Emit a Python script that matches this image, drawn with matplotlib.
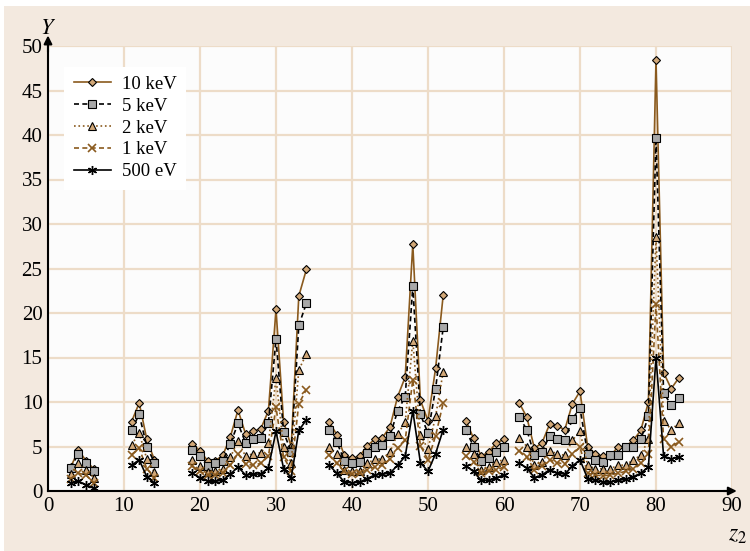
import numpy as np
import matplotlib
matplotlib.use("Agg")
import matplotlib.pyplot as plt
from matplotlib.patches import Rectangle

plt.rcParams['font.family'] = ['Liberation Serif', 'DejaVu Serif']
plt.rcParams['mathtext.fontset'] = 'stix'

# atomic numbers of the targets
z2 = [3, 4, 5, 6,
      11, 12, 13, 14,
      19, 20, 21, 22, 23, 24, 25, 26, 27, 28, 29, 30, 31, 32, 33, 34,
      37, 38, 39, 40, 41, 42, 43, 44, 45, 46, 47, 48, 49, 50, 51, 52,
      55, 56, 57, 58, 59, 60,
      62, 63, 64, 65, 66, 67, 68, 69, 70, 71, 72, 73, 74, 75, 76, 77, 78, 79, 80, 81, 82, 83]

y_10kev = [2.7, 4.6, 3.4, 2.5,
           7.8, 9.9, 5.8, 3.5,
           5.3, 4.5, 3.4, 3.4, 4.0, 6.1, 9.1, 6.4, 6.7, 7.0, 9.0, 20.4, 7.8, 5.0, 21.9, 24.9,
           7.8, 6.3, 4.0, 3.7, 3.9, 5.1, 5.8, 6.0, 7.2, 10.6, 12.8, 27.7, 10.2, 7.9, 13.8, 22.0,
           7.9, 5.9, 3.9, 4.4, 5.4, 5.8,
           9.9, 8.3, 4.8, 5.4, 7.5, 7.3, 6.9, 9.8, 11.2, 5.0, 4.2, 3.9, 3.9, 5.0, 5.0, 5.7, 6.8, 10.0, 48.4, 13.3, 11.5, 12.7]

y_5kev = [2.6, 4.2, 3.2, 2.3,
          6.9, 8.6, 5.0, 3.2,
          4.6, 3.9, 2.8, 3.1, 3.4, 5.3, 7.6, 5.4, 5.8, 6.0, 7.6, 17.1, 6.6, 4.4, 18.6, 21.1,
          6.8, 5.5, 3.4, 3.1, 3.3, 4.3, 4.9, 5.2, 6.2, 9.0, 10.6, 23.0, 8.6, 6.5, 11.5, 18.4,
          6.8, 5.0, 3.4, 3.7, 4.4, 5.0,
          8.3, 6.9, 4.0, 4.4, 6.2, 5.8, 5.7, 8.1, 9.3, 4.2, 3.5, 3.3, 4.0, 4.0, 4.9, 5.0, 5.8, 8.4, 39.7, 11.0, 9.7, 10.4]

y_2kev = [1.9, 3.1, 2.4, 1.5,
          5.2, 6.5, 3.6, 2.1,
          3.5, 2.8, 2.1, 2.3, 2.5, 3.8, 5.6, 3.9, 4.2, 4.3, 5.4, 12.7, 4.9, 3.2, 13.6, 15.4,
          4.9, 4.2, 2.4, 2.2, 2.2, 3.1, 3.6, 3.6, 4.4, 6.4, 7.7, 16.9, 6.3, 4.7, 8.4, 13.4,
          4.9, 4.2, 2.4, 2.7, 3.3, 3.5,
          6.0, 5.0, 2.9, 3.3, 4.5, 4.2, 4.0, 5.7, 6.7, 2.9, 2.5, 2.5, 2.5, 2.9, 2.9, 3.5, 4.0, 5.8, 28.5, 7.9, 6.9, 7.6]

y_1kev = [1.4, 2.0, 1.8, 0.9,
          4.1, 4.8, 2.5, 1.5,
          2.8, 2.2, 1.8, 1.8, 2.0, 2.9, 4.2, 3.0, 2.9, 3.1, 3.9, 9.4, 3.8, 2.3, 9.8, 11.4,
          4.0, 3.1, 2.2, 1.9, 2.0, 2.4, 2.7, 2.9, 3.6, 4.8, 5.7, 12.5, 5.1, 3.5, 6.2, 9.9,
          3.9, 3.3, 2.0, 2.2, 2.4, 2.7,
          4.5, 3.8, 2.4, 2.8, 3.5, 3.2, 3.0, 4.2, 4.9, 2.0, 1.8, 1.7, 1.8, 2.0, 2.2, 2.5, 3.1, 4.2, 21.0, 5.8, 5.0, 5.5]

y_500ev = [0.9, 1.1, 0.7, 0.3,
           2.9, 3.5, 1.6, 0.9,
           2.0, 1.5, 1.1, 1.1, 1.2, 1.9, 2.7, 1.8, 1.9, 1.9, 2.6, 6.7, 2.5, 1.5, 6.8, 8.0,
           2.9, 2.0, 1.0, 0.9, 1.0, 1.4, 1.8, 1.9, 2.0, 2.9, 3.9, 9.0, 3.2, 2.2, 4.2, 6.9,
           2.8, 2.2, 1.2, 1.2, 1.5, 1.8,
           3.1, 2.6, 1.5, 1.8, 2.4, 2.0, 1.9, 2.8, 3.5, 1.4, 1.2, 1.0, 1.0, 1.2, 1.3, 1.6, 2.0, 2.7, 15.0, 3.9, 3.6, 3.8]

labels = ['10 keV', '5 keV', '2 keV', '1 keV', '500 eV']


def broken(z, y):
    # put a NaN wherever the Z sequence jumps so the line is interrupted
    z = np.array(z, dtype=float)
    y = np.array(y, dtype=float)
    zz, yy = [z[0]], [y[0]]
    for i in range(1, len(z)):
        if z[i] - z[i - 1] > 1:
            zz.append(np.nan)
            yy.append(np.nan)
        zz.append(z[i])
        yy.append(y[i])
    return np.array(zz), np.array(yy)


brown = '#8a5a1e'
tan = '#d2a878'

fig = plt.figure(figsize=(7.5, 5.51), dpi=100)
fig.patch.set_facecolor('white')
fig.patches.append(Rectangle((4 / 750, 0), 1, 545 / 551, transform=fig.transFigure,
                             facecolor='#f3e9df', edgecolor='none', zorder=-10))

ax = fig.add_axes([48 / 750, 60 / 551, 684 / 750, 445 / 551])
ax.set_facecolor('#fcfcfc')

styles = [
    dict(color=brown, ls='-', marker='D', ms=4.5, mfc=tan, mec='black', mew=0.8, lw=1.2),
    dict(color='black', ls=(0, (3, 2)), marker='s', ms=5.5, mfc='#a8a8a8', mec='black', mew=0.8, lw=1.2),
    dict(color=brown, ls=':', marker='^', ms=5.5, mfc=tan, mec='black', mew=0.8, lw=1.2),
    dict(color=brown, ls=(0, (3, 2)), marker='x', ms=5.5, mec=brown, mew=1.2, lw=1.2),
    dict(color='black', ls='-', marker=(6, 2, 0), ms=6.5, mec='black', mew=1.0, lw=1.2),
]
series = [y_10kev, y_5kev, y_2kev, y_1kev, y_500ev]

for ys, st, lab in zip(series, styles, labels):
    xx, yy = broken(z2, ys)
    ax.plot(xx, yy, label=lab, zorder=3, **st)

ax.set_xlim(0, 90)
ax.set_ylim(0, 50)
ax.set_xticks(np.arange(0, 91, 10))
ax.set_yticks(np.arange(0, 51, 5))
ax.grid(True, color='#eddcc8', lw=1.6, zorder=0)
ax.set_axisbelow(True)
ax.tick_params(length=0, labelsize=15, pad=4)
for s in ['top', 'right']:
    ax.spines[s].set_visible(False)
ax.spines['left'].set_linewidth(1.5)
ax.spines['bottom'].set_linewidth(1.5)

# axis arrows
ax.annotate('', xy=(0, 51.5), xytext=(0, 49), xycoords='data',
            arrowprops=dict(arrowstyle='-|>', color='black', lw=1.5, mutation_scale=12),
            annotation_clip=False)
ax.annotate('', xy=(91, 0), xytext=(88.5, 0), xycoords='data',
            arrowprops=dict(arrowstyle='-|>', color='black', lw=1.5, mutation_scale=12),
            annotation_clip=False)

fig.text(56 / 750, 1 - 30 / 551, r'$Y$', fontsize=16, ha='right', va='center')
fig.text(738 / 750, 1 - 536 / 551, r'$z_2$', fontsize=17, ha='center', va='center')

leg = ax.legend(loc='upper left', bbox_to_anchor=(0.01, 0.975), frameon=True, fontsize=13.5,
                handlelength=2.0, labelspacing=0.25, borderpad=0.5, handletextpad=0.6,
                fancybox=False)
leg.get_frame().set_edgecolor('none')
leg.get_frame().set_facecolor('white')
leg.get_frame().set_alpha(1)

fig.savefig('out.png', dpi=100, facecolor=fig.get_facecolor())
